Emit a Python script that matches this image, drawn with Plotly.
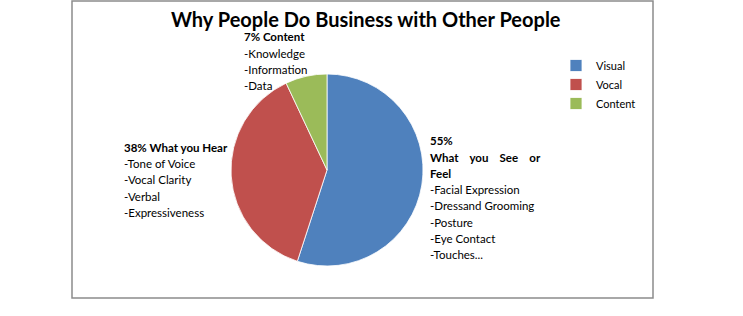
import plotly.graph_objects as go

W, H = 743, 316

# ---- data ----
categories = ["Visual", "Vocal", "Content"]
values = [55, 38, 7]
colors = ["#4F81BD", "#C0504D", "#9BBB59"]

title_text = "Why People Do Business with Other People"

content_head = ["7% Content"]
content_items = ["-Knowledge", "-Information", "-Data"]

vocal_head = ["38% What you Hear"]
vocal_items = ["-Tone of Voice", "-Vocal Clarity", "-Verbal", "-Expressiveness"]

visual_head = ["55%", "What\u00a0\u00a0\u00a0 you\u00a0\u00a0\u00a0 See\u00a0\u00a0\u00a0 or", "Feel"]
visual_items = ["-Facial Expression", "-Dressand Grooming", "-Posture", "-Eye Contact", "-Touches..."]

FONT = "Lato"

def px_x(x):
    return x / W

def px_y(y):
    return 1 - y / H

fig = go.Figure()
cx, cy, r = 327, 170, 96
fig.add_trace(go.Pie(
    labels=categories,
    values=values,
    marker=dict(colors=colors, line=dict(color="white", width=0.8)),
    sort=False,
    direction="clockwise",
    rotation=0,
    textinfo="none",
    hoverinfo="label+percent",
    domain=dict(x=[px_x(cx - r), px_x(cx + r)], y=[px_y(cy + r), px_y(cy - r)]),
))

annotations = []
LS = 16.2

def add_block(heads, items, x0, y0):
    lines = [(t, True) for t in heads] + [(t, False) for t in items]
    for i, (t, bold) in enumerate(lines):
        annotations.append(dict(
            text=f"<b>{t}</b>" if bold else t,
            x=px_x(x0), y=px_y(y0 + i * LS),
            xref="paper", yref="paper",
            xanchor="left", yanchor="middle",
            showarrow=False,
            font=dict(family=FONT, size=11.5, color="#000000"),
        ))

add_block(content_head, content_items, 242, 37)
add_block(vocal_head, vocal_items, 122, 147.5)
add_block(visual_head, visual_items, 428, 141)

annotations.append(dict(
    text=f"<b>{title_text}</b>",
    x=px_x(366), y=px_y(19),
    xref="paper", yref="paper",
    xanchor="center", yanchor="middle",
    showarrow=False,
    font=dict(family=FONT, size=20, color="#000000"),
))

fig.update_layout(
    width=W, height=H,
    margin=dict(l=0, r=0, t=0, b=0),
    paper_bgcolor="white",
    plot_bgcolor="white",
    showlegend=True,
    legend=dict(
        x=px_x(556), y=px_y(51),
        xanchor="left", yanchor="top",
        font=dict(family=FONT, size=11, color="#000000"),
        bgcolor="rgba(0,0,0,0)",
        itemwidth=30,
    ),
    annotations=annotations,
    shapes=[dict(
        type="rect", xref="paper", yref="paper",
        x0=px_x(72), x1=px_x(653), y0=px_y(298), y1=px_y(1),
        line=dict(color="#8c8c8c", width=1.5),
        fillcolor="rgba(0,0,0,0)",
        layer="below",
    )],
)

fig.write_html("out.html")
